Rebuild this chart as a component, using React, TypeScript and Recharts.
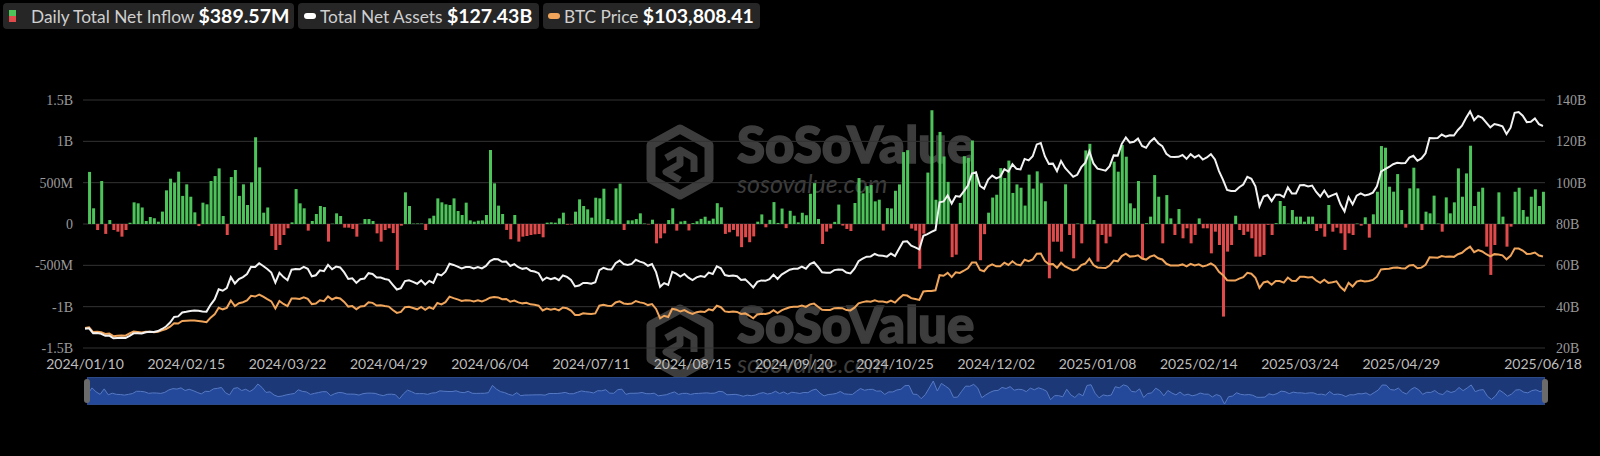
import React from "react";
import { ComposedChart, Bar, Line, Area, XAxis, YAxis, CartesianGrid, Cell } from "recharts";

// daily total net inflow, $M (first day has no flow)
const flowM: (number | null)[] = [
  null,
  630, 190, -73, 520, -120, 48, -73, -93, -153, -73,
  15, 262, 250, 200, 36, 85, 70, 28, 150, 407,
  548, 500, 633, 340, 480, 330, 141, -25, 258, 238,
  520, 580, 673, 97, -133, 568, 653, 340, 480, 230,
  504, 1048, 685, 137, 200, -145, -314, -254, -133, -52,
  20, 423, 250, 190, -80, 36, 121, 218, 205, -213,
  3, 129, 97, -44, -44, -60, -153, 2, 60, 60,
  36, -113, -213, -73, -52, -110, -556, -20, 383, 218,
  4, 6, 5, -73, 68, 100, 310, 262, 238, 230,
  310, 157, 109, 258, 44, 28, 40, 44, 109, 895,
  492, 222, 121, -72, -185, 109, -213, -153, -145, -133,
  -125, -121, -161, 16, 20, 16, 68, 137, -8, -5,
  149, 298, 218, 177, 77, 318, 310, 427, 60, 44,
  431, 488, -73, 44, 44, 60, 129, 5, -5, 52,
  -234, -173, -113, 48, 190, -80, 30, 38, -78, 11,
  33, 62, 88, 39, 65, 252, 202, -120, -100, -72,
  -150, -280, -160, -220, -150, 28, 116, -40, 50, 265,
  13, 187, -50, 160, 100, 20, 136, 106, 366, 494,
  61, -242, -92, -54, 26, 235, -19, -60, -85, 254,
  556, 371, 458, 471, 274, 294, -79, 192, 188, 402,
  479, 870, 893, -55, -80, -541, -117, 622, 1376, 293,
  1114, 817, 510, -401, -371, 255, 820, 800, 1010, 600,
  -438, -123, 137, 320, 354, 676, 556, 767, 376, 479,
  439, 223, 597, 428, 637, 493, 275, -657, -214, -214,
  -334, 480, -133, -415, 5, -234, 890, 970, 48, -455,
  -133, -234, -153, 754, 633, 955, 814, 250, 190, 520,
  -415, 10, 89, 592, 330, -234, 350, 68, -133, 181,
  -173, -52, -234, -133, 68, -52, -52, -355, -93, -254,
  -1120, -334, -254, 100, -73, -133, -93, -173, -395, -395,
  -375, -10, -133, 10, 278, 218, 5, 169, 89, 89,
  28, 89, 89, -85, -52, -153, 230, -93, -45, -113,
  -314, -113, -133, 5, -20, 81, -165, 117, 390, 943,
  923, 451, 391, 604, 169, -44, 431, 681, 431, -73,
  149, 129, 343, 5, -93, 322, 129, 262, 673, 330,
  612, 947, 218, 390, 439, -274, -616, -254, 383, 89,
  -274, -32, 390, 439, 169, 89, 330, 419, 218, 389.57,
];

// total net assets, $B
const netAssetsB = [
  29.3,
  29.5, 27.1, 27.2, 26.9, 25.9, 26.0, 24.7, 24.8, 24.9, 24.8,
  25.9, 27.1, 27.1, 27.0, 27.6, 27.9, 27.7, 28.2, 29.2, 30.4,
  32.3, 35.0, 35.3, 37.2, 37.5, 37.9, 38.1, 38.0, 37.7, 37.6,
  40.9, 43.5, 48.4, 47.7, 49.0, 54.3, 51.2, 53.4, 54.3, 55.8,
  59.3, 59.2, 61.0, 59.7, 58.2, 56.5, 51.6, 56.4, 54.3, 52.8,
  57.9, 58.2, 58.1, 59.3, 58.3, 54.7, 55.2, 57.6, 57.2, 60.2,
  58.1, 59.4, 59.0, 56.6, 53.4, 53.7, 51.5, 53.3, 53.6, 56.2,
  55.8, 54.1, 54.1, 53.4, 53.0, 50.6, 48.3, 49.0, 52.4, 52.8,
  52.0, 51.1, 52.7, 50.7, 52.5, 51.5, 55.8, 55.1, 56.9, 60.8,
  60.2, 59.4, 58.5, 59.2, 59.2, 58.5, 59.2, 58.5, 59.7, 62.1,
  63.0, 62.9, 61.7, 61.8, 59.7, 60.6, 59.1, 58.3, 58.7, 57.4,
  57.0, 56.2, 52.8, 54.1, 53.3, 53.9, 52.8, 55.1, 54.4, 52.9,
  49.8, 50.2, 51.5, 51.4, 51.1, 51.8, 57.7, 58.8, 58.1, 58.0,
  61.0, 62.3, 60.6, 60.2, 60.7, 62.7, 61.8, 61.2, 59.8, 60.6,
  56.7, 49.6, 51.4, 50.5, 56.8, 56.0, 54.6, 55.8, 54.0, 52.9,
  54.2, 54.8, 54.4, 56.5, 55.8, 59.5, 58.6, 55.3, 54.8, 55.1,
  54.7, 52.9, 53.2, 51.4, 49.3, 52.0, 52.7, 52.5, 53.3, 55.5,
  53.4, 55.5, 56.7, 57.9, 58.3, 58.4, 59.4, 58.4, 60.6, 61.5,
  59.2, 56.6, 56.4, 56.4, 57.7, 58.0, 57.9, 56.5, 56.1, 58.4,
  62.0, 63.2, 64.2, 64.3, 65.5, 64.7, 64.6, 64.2, 65.7, 64.5,
  68.0, 71.4, 71.6, 69.5, 68.7, 67.7, 74.3, 75.1, 76.2, 77.1,
  90.5, 90.9, 93.8, 89.9, 93.5, 93.2, 95.8, 98.6, 104.4, 105.0,
  98.4, 97.1, 101.5, 103.4, 102.1, 102.9, 106.5, 105.3, 108.9, 106.7,
  106.4, 111.5, 110.8, 112.8, 118.5, 119.2, 112.8, 109.1, 109.2, 105.6,
  110.5, 107.1, 105.0, 102.9, 103.8, 107.5, 109.7, 115.2, 109.3, 106.8,
  106.3, 105.8, 108.0, 113.2, 113.1, 118.8, 121.9, 119.4, 119.8, 121.4,
  117.8, 116.9, 119.8, 121.5, 119.1, 117.7, 114.0, 112.5, 112.4, 112.5,
  113.4, 111.5, 113.8, 112.2, 113.3, 111.2, 112.2, 113.8, 111.2, 105.6,
  101.4, 96.5, 96.0, 96.0, 97.8, 99.1, 102.8, 101.9, 98.2, 88.6,
  93.3, 94.0, 91.1, 94.2, 94.2, 93.0, 97.7, 94.8, 94.8, 98.8,
  98.9, 98.2, 98.6, 95.5, 93.3, 96.2, 93.1, 94.0, 94.7, 89.5,
  86.1, 92.9, 89.5, 93.7, 94.8, 93.8, 94.3, 95.2, 98.2, 105.3,
  106.5, 107.6, 108.9, 109.6, 109.4, 109.5, 112.1, 113.0, 110.6, 111.7,
  114.2, 121.6, 121.5, 121.6, 123.3, 122.3, 122.9, 122.8, 125.5, 127.6,
  131.3, 134.5, 130.2, 132.3, 131.4, 129.1, 126.8, 128.4, 127.9, 127.3,
  123.5, 126.6, 133.8, 134.2, 132.4, 129.3, 129.5, 131.1, 128.3, 127.43,
];

// BTC price, $K
const btcK = [
  46.1,
  46.6, 42.85, 43.15, 42.75, 41.3, 41.6, 39.55, 39.9, 40.1, 39.95,
  41.8, 43.3, 42.95, 42.58, 43.08, 43.2, 42.65, 43.1, 44.3, 45.3,
  47.15, 49.95, 49.7, 51.8, 51.95, 52.15, 52.25, 51.85, 51.3, 50.75,
  54.5, 57.1, 62.5, 61.2, 62.4, 68.3, 63.8, 66.1, 66.9, 68.3,
  72.1, 71.5, 73.1, 71.4, 69.4, 67.6, 61.9, 67.9, 65.5, 63.8,
  69.9, 69.9, 69.5, 70.8, 69.7, 65.4, 65.9, 68.5, 67.8, 71.6,
  69.1, 70.6, 70.0, 67.2, 63.4, 63.8, 61.3, 63.5, 63.8, 66.8,
  66.4, 64.3, 64.5, 63.8, 63.4, 60.6, 58.3, 59.1, 62.9, 63.2,
  62.3, 61.2, 63.1, 60.8, 62.9, 61.6, 66.3, 65.2, 67.0, 71.4,
  70.2, 69.2, 67.9, 68.5, 68.4, 67.6, 68.4, 67.5, 68.8, 70.6,
  71.1, 70.8, 69.3, 69.5, 67.3, 68.2, 66.8, 66.0, 66.5, 65.2,
  64.9, 64.1, 60.3, 61.8, 60.9, 61.6, 60.3, 62.7, 62.0, 60.2,
  56.6, 56.7, 58.0, 57.7, 57.4, 57.9, 64.1, 64.9, 64.1, 63.9,
  66.7, 67.6, 65.9, 65.4, 65.8, 67.9, 66.8, 66.2, 64.6, 65.4,
  61.5, 54.0, 56.0, 55.0, 61.7, 60.9, 59.4, 60.6, 58.7, 57.5,
  58.9, 59.5, 59.0, 61.2, 60.4, 64.1, 62.9, 59.5, 59.0, 59.4,
  59.1, 57.5, 57.9, 56.2, 54.0, 57.0, 57.6, 57.4, 58.2, 60.5,
  58.2, 60.3, 61.7, 62.9, 63.2, 63.3, 64.3, 63.1, 65.2, 65.8,
  63.3, 60.8, 60.6, 60.7, 62.1, 62.2, 62.1, 60.6, 60.3, 62.5,
  66.0, 67.0, 67.6, 67.4, 68.4, 67.4, 67.4, 66.7, 68.2, 66.6,
  69.9, 72.7, 72.3, 70.2, 69.5, 68.8, 75.6, 75.9, 75.9, 76.5,
  88.7, 88.3, 90.6, 87.2, 91.0, 90.5, 92.3, 94.3, 98.9, 98.9,
  93.0, 91.9, 95.9, 97.4, 95.9, 96.0, 98.8, 97.0, 99.9, 97.4,
  96.7, 101.2, 100.0, 101.4, 106.0, 106.1, 100.2, 97.5, 97.8, 94.7,
  98.7, 95.8, 94.2, 92.6, 93.4, 96.9, 98.1, 102.1, 96.9, 95.0,
  94.7, 94.5, 96.5, 100.5, 99.9, 104.1, 106.1, 103.7, 103.9, 104.8,
  102.1, 101.3, 103.7, 104.7, 102.4, 101.4, 97.9, 96.6, 96.6, 96.5,
  97.4, 95.8, 97.9, 96.6, 97.5, 95.8, 96.6, 98.3, 96.1, 91.4,
  88.7, 84.7, 84.4, 84.4, 86.0, 87.2, 90.6, 89.9, 86.7, 78.5,
  82.9, 83.7, 81.1, 84.0, 84.0, 82.7, 86.8, 84.2, 84.0, 87.5,
  87.5, 86.9, 87.2, 84.4, 82.5, 85.1, 82.5, 83.1, 83.8, 79.2,
  76.3, 82.6, 79.6, 83.5, 84.5, 83.6, 84.0, 84.9, 87.5, 93.4,
  93.7, 93.9, 94.7, 95.0, 94.3, 94.2, 96.5, 96.9, 94.3, 94.8,
  97.0, 103.2, 103.0, 102.8, 104.2, 103.5, 103.7, 103.5, 105.6, 106.8,
  109.6, 111.7, 107.3, 108.9, 107.8, 105.6, 103.9, 105.7, 105.4, 104.7,
  101.5, 104.3, 110.2, 110.2, 108.6, 105.9, 106.0, 107.0, 104.6, 103.80841,
];

const tickLabels = [
  "2024/01/10", "2024/02/15", "2024/03/22", "2024/04/29", "2024/06/04",
  "2024/07/11", "2024/08/15", "2024/09/20", "2024/10/25", "2024/12/02",
  "2025/01/08", "2025/02/14", "2025/03/24", "2025/04/29", "2025/06/18",
];
const flowTicks = [-1500, -1000, -500, 0, 500, 1000, 1500];
const assetTicks = [20, 40, 60, 80, 100, 120, 140];

// US market closures in the range
const holidays = [
  "2024-01-15", "2024-02-19", "2024-03-29", "2024-05-27", "2024-06-19", "2024-07-04",
  "2024-09-02", "2024-11-28", "2024-12-25", "2025-01-01", "2025-01-09", "2025-01-20",
  "2025-02-17", "2025-04-18", "2025-05-26",
];

function tradingDays(start: string, count: number) {
  const out: string[] = [];
  const d = new Date(start + "T00:00:00Z");
  while (out.length < count) {
    const iso = d.toISOString().slice(0, 10);
    const wd = d.getUTCDay();
    if (wd !== 0 && wd !== 6 && !holidays.includes(iso)) out.push(iso.replace(/-/g, "/"));
    d.setUTCDate(d.getUTCDate() + 1);
  }
  return out;
}

const dates = tradingDays("2024-01-10", flowM.length);
const data = dates.map((date, i) => ({
  date,
  flow: flowM[i],
  shadow: flowM[i] ?? 0,
  assets: netAssetsB[i],
  btc: btcK[i],
}));

const GREEN = "#4cc45a";
const RED = "#e04a4a";
const ORANGE = "#f0a55a";
const WM = "#3d3d3d";

const fmtFlow = (v: number) => (v === 0 ? "0" : Math.abs(v) >= 1000 ? `${v / 1000}B` : `${v}M`);

const Watermark = ({ y }: { y: number }) => {
  const cx = 680;
  const cy = y + 34;
  const hex = [
    [cx, cy - 33], [cx + 29, cy - 17], [cx + 29, cy + 17],
    [cx, cy + 33], [cx - 29, cy + 17], [cx - 29, cy - 17],
  ].map((p) => p.join(",")).join(" ");
  return (
    <g>
      <polygon points={hex} fill="none" stroke={WM} strokeWidth={9} strokeLinejoin="round" />
      <path
        d={`M${cx - 14} ${cy - 4} L${cx} ${cy - 12} L${cx + 14} ${cy - 4} L${cx + 14} ${cy + 10} M${cx} ${cy - 12} L${cx} ${cy + 2} L${cx - 14} ${cy + 10} L${cx} ${cy + 18}`}
        fill="none"
        stroke={WM}
        strokeWidth={7}
        strokeLinejoin="round"
      />
      <text x={737} y={y + 35} fill={WM} stroke={WM} strokeWidth={1.6} fontFamily="Lato" fontWeight={900} fontSize={51}>
        SoSoValue
      </text>
      <text x={737} y={y + 65} fill={WM} fontFamily="Lato" fontStyle="italic" fontSize={25}>
        sosovalue.com
      </text>
    </g>
  );
};

const Pill = ({ left, width, pad, icon, label, value }: any) => (
  <div
    style={{
      position: "absolute", left, top: 3, width, height: 26, background: "#262626",
      borderRadius: 4, fontFamily: "Lato", lineHeight: "26px", whiteSpace: "nowrap",
    }}
  >
    {icon}
    <span style={{ position: "absolute", left: pad, color: "#cfcfcf", fontSize: 17.3 }}>
      {label} <b style={{ color: "#fff", fontSize: 19.5 }}>{value}</b>
    </span>
  </div>
);

export default function App() {
  return (
    <div style={{ position: "absolute", left: 0, top: 0, width: 1600, height: 456, background: "#000", overflow: "hidden" }}>
      <svg width={1600} height={456} style={{ position: "absolute", left: 0, top: 0 }}>
        <Watermark y={128} />
        <Watermark y={308} />
      </svg>

      <Pill
        left={3}
        width={291}
        pad={28}
        label="Daily Total Net Inflow"
        value="$389.57M"
        icon={
          <div style={{ position: "absolute", left: 6, top: 7, width: 7, height: 12 }}>
            <div style={{ height: 6, background: GREEN }} />
            <div style={{ height: 6, background: RED }} />
          </div>
        }
      />
      <Pill
        left={298}
        width={241}
        pad={22}
        label="Total Net Assets"
        value="$127.43B"
        icon={<div style={{ position: "absolute", left: 6, top: 10, width: 12, height: 6, borderRadius: 3, background: "#fff" }} />}
      />
      <Pill
        left={543}
        width={217}
        pad={21}
        label="BTC Price"
        value="$103,808.41"
        icon={<div style={{ position: "absolute", left: 5, top: 10, width: 12, height: 6, borderRadius: 3, background: ORANGE }} />}
      />

      <div style={{ position: "absolute", left: 0, top: 0 }}>
        <ComposedChart width={1600} height={380} data={data} margin={{ top: 100, right: 0, bottom: 0, left: 0 }}>
          <CartesianGrid yAxisId="flow" vertical={false} stroke="#333" />
          <XAxis
            dataKey="date"
            ticks={tickLabels}
            interval={0}
            axisLine={false}
            tickLine={false}
            tickSize={0}
            tickMargin={11}
            height={32}
            tick={{ fill: "#bdbdbd", fontSize: 14, fontFamily: "Lato" }}
          />
          <YAxis
            yAxisId="flow"
            domain={[-1500, 1500]}
            ticks={flowTicks}
            tickFormatter={fmtFlow}
            width={83}
            axisLine={false}
            tickLine={false}
            tickSize={0}
            tickMargin={10}
            tick={{ fill: "#9a9a9a", fontSize: 14, fontFamily: "Liberation Serif" }}
          />
          <YAxis
            yAxisId="assets"
            orientation="right"
            domain={[20, 140]}
            ticks={assetTicks}
            tickFormatter={(v: number) => `${v}B`}
            width={55}
            axisLine={false}
            tickLine={false}
            tickSize={0}
            tickMargin={11}
            tick={{ fill: "#9a9a9a", fontSize: 14, fontFamily: "Liberation Serif" }}
          />
          <YAxis yAxisId="btc" hide width={0} domain={[30, 230]} />
          <Bar yAxisId="flow" dataKey="flow" barSize={3} isAnimationActive={false}>
            {data.map((d, i) => (
              <Cell key={i} fill={(d.flow ?? 0) >= 0 ? GREEN : RED} />
            ))}
          </Bar>
          <Line yAxisId="btc" dataKey="btc" type="linear" stroke={ORANGE} strokeWidth={2} dot={false} isAnimationActive={false} />
          <Line yAxisId="assets" dataKey="assets" type="linear" stroke="#f2f2f2" strokeWidth={2} dot={false} isAnimationActive={false} />
        </ComposedChart>
      </div>

      <div
        style={{
          position: "absolute", left: 87, top: 377, width: 1458, height: 28,
          background: "#1c3877", border: "1px solid #2b4a8a", boxSizing: "border-box",
        }}
      >
        <ComposedChart width={1456} height={26} data={data} margin={{ top: 3, right: 0, bottom: 0, left: 0 }}>
          <XAxis dataKey="date" hide />
          <YAxis hide domain={["dataMin", "dataMax"]} />
          <Area dataKey="shadow" type="linear" baseValue="dataMin" stroke="#5579c4" strokeWidth={1} fill="#25499a" fillOpacity={1} isAnimationActive={false} />
        </ComposedChart>
      </div>
      <div style={{ position: "absolute", left: 84, top: 379, width: 6, height: 24, borderRadius: 3, background: "#6b6b6b" }} />
      <div style={{ position: "absolute", left: 1542, top: 379, width: 6, height: 24, borderRadius: 3, background: "#6b6b6b" }} />
    </div>
  );
}
